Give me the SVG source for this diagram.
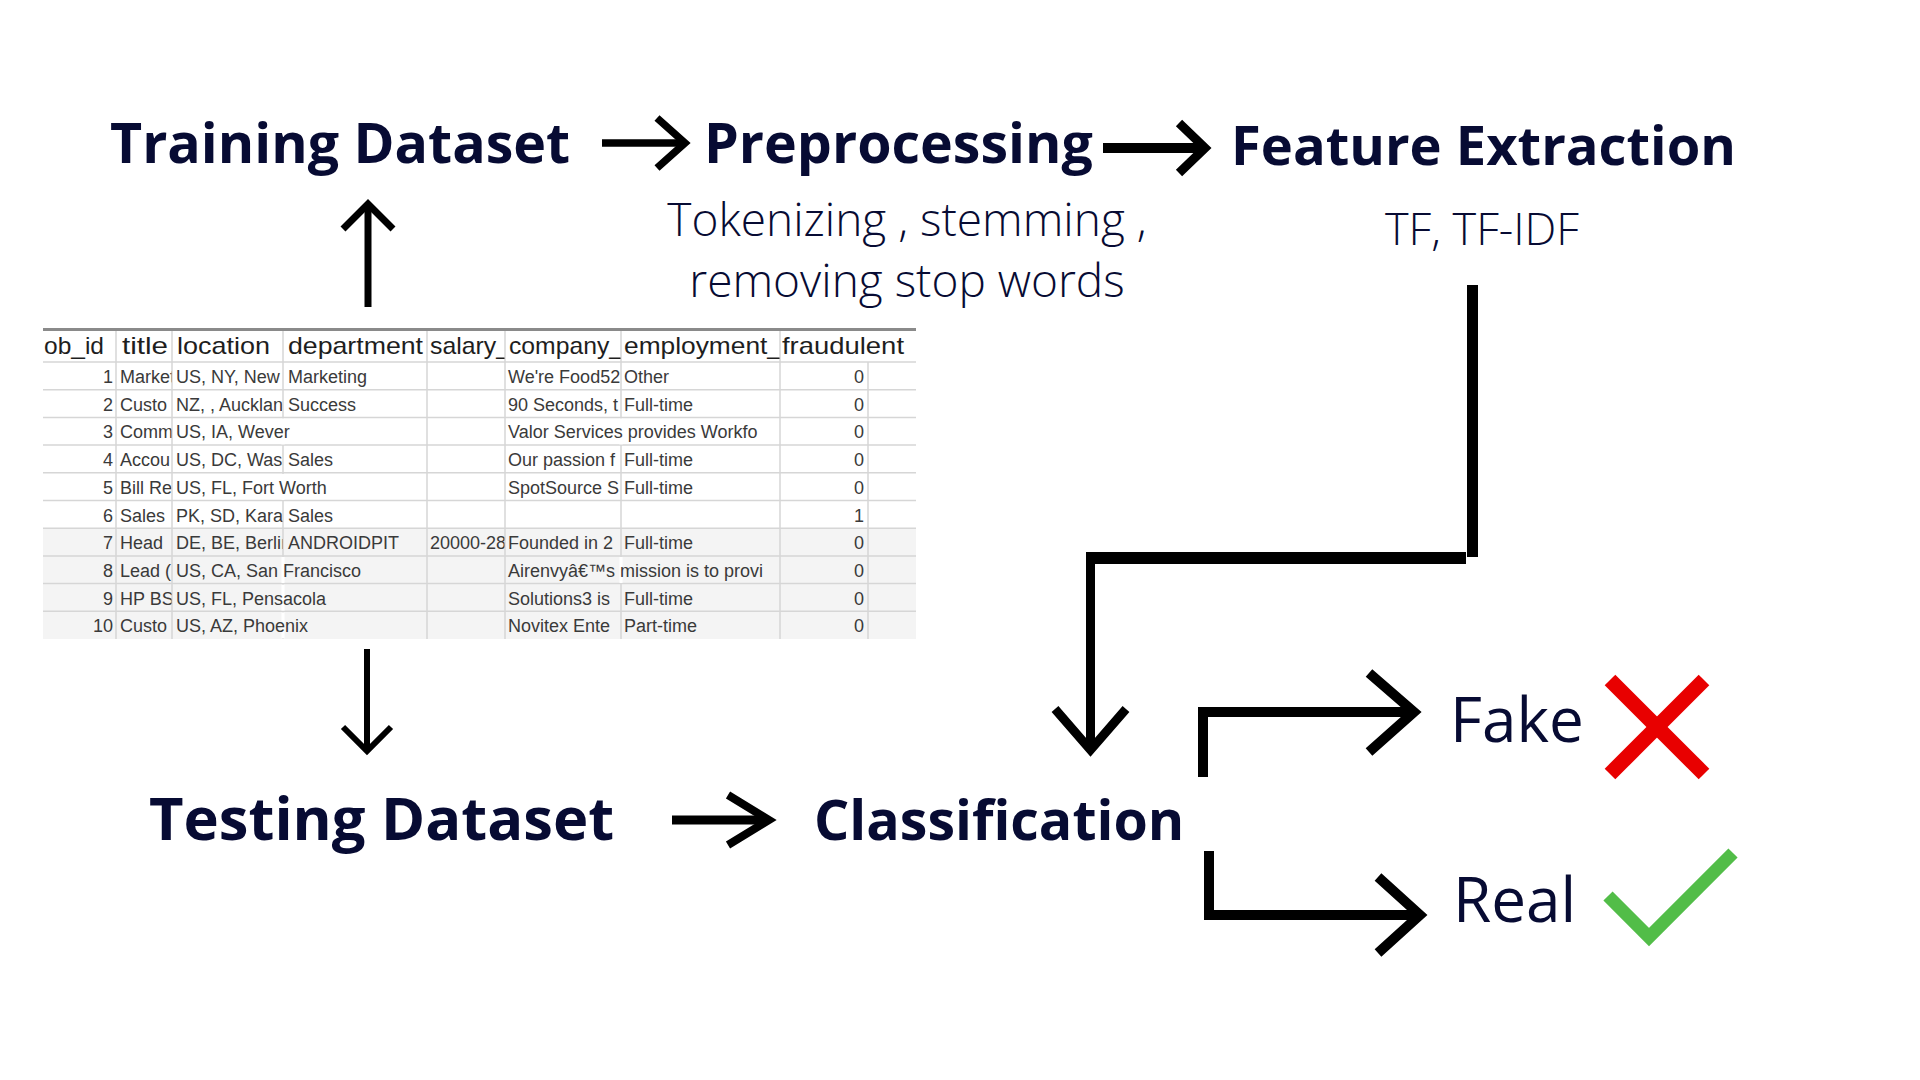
<svg xmlns="http://www.w3.org/2000/svg" width="1920" height="1080" viewBox="0 0 1920 1080">
<style>
.t{font-family:"Open Sans","Noto Sans",sans-serif;fill:#070b33}
.b{font-weight:700;font-size:55.5px}
.l{font-weight:300;font-size:46px}
.r{font-weight:400;font-size:62px}
.ln{stroke:#000;fill:none;stroke-linecap:butt;stroke-linejoin:miter}
.th{font-family:"Liberation Sans",Arial,sans-serif;font-size:24px;fill:#1e1e1e}
.td{font-family:"Liberation Sans",Arial,sans-serif;font-size:18px;fill:#3a3a3a}
.g{stroke:#d6d6d6;stroke-width:1.5}
</style>
<defs>
<clipPath id="cTitle"><rect x="117" y="328" width="54.5" height="312"/></clipPath>
<clipPath id="cLoc"><rect x="172.5" y="328" width="110" height="312"/></clipPath>
<clipPath id="cSal"><rect x="427.5" y="328" width="77" height="312"/></clipPath>
<clipPath id="cCo"><rect x="505.5" y="328" width="115" height="312"/></clipPath>
<clipPath id="cCoW"><rect x="505.5" y="328" width="274" height="312"/></clipPath>
<clipPath id="cEmp"><rect x="621.5" y="328" width="158" height="312"/></clipPath>
<clipPath id="cTab"><rect x="43" y="326" width="873" height="314"/></clipPath>
</defs>
<rect width="1920" height="1080" fill="#fff"/>

<g id="node-training"><text class="t b" x="110" y="163">Training Dataset</text></g>
<g id="node-preprocessing">
<text class="t b" x="704" y="163">Preprocessing</text>
<text class="t l" x="907" y="236" text-anchor="middle">Tokenizing , stemming ,</text>
<text class="t l" x="907" y="297" text-anchor="middle">removing stop words</text>
</g>
<g id="node-feature">
<text class="t b" x="1231" y="165" style="font-size:54.3px">Feature Extraction</text>
<text class="t l" x="1385" y="245" style="font-size:45px">TF, TF-IDF</text>
</g>
<g id="node-testing"><text class="t b" x="149" y="840" style="font-size:59.7px">Testing Dataset</text></g>
<g id="node-classification"><text class="t b" x="814" y="840">Classification</text></g>
<g id="node-fake">
<text class="t r" x="1450" y="742">Fake</text>
<g stroke="#e80000" stroke-width="15" stroke-linecap="butt">
<line x1="1610" y1="680" x2="1704" y2="774"/>
<line x1="1704" y1="680" x2="1610" y2="774"/>
</g>
</g>
<g id="node-real">
<text class="t r" x="1453" y="922">Real</text>
<polyline points="1608,896 1649,937 1733,853" fill="none" stroke="#52bd48" stroke-width="13"/>
</g>

<g id="node-table" clip-path="url(#cTab)">
<rect x="43" y="328" width="873" height="311" fill="#fff"/>
<rect x="43" y="528" width="873" height="111" fill="#f4f4f4"/>
<g class="g">
<line x1="43" y1="362" x2="916" y2="362"/>
<line x1="43" y1="389.7" x2="916" y2="389.7"/>
<line x1="43" y1="417.4" x2="916" y2="417.4"/>
<line x1="43" y1="445.1" x2="916" y2="445.1"/>
<line x1="43" y1="472.8" x2="916" y2="472.8"/>
<line x1="43" y1="500.5" x2="916" y2="500.5"/>
<line x1="43" y1="528.2" x2="916" y2="528.2"/>
<line x1="43" y1="555.9" x2="916" y2="555.9"/>
<line x1="43" y1="583.6" x2="916" y2="583.6"/>
<line x1="43" y1="611.3" x2="916" y2="611.3"/>
<line x1="116" y1="330" x2="116" y2="639"/>
<line x1="172" y1="330" x2="172" y2="639"/>
<line x1="283" y1="330" x2="283" y2="639"/>
<line x1="427" y1="330" x2="427" y2="639"/>
<line x1="505" y1="330" x2="505" y2="639"/>
<line x1="621" y1="330" x2="621" y2="639"/>
<line x1="780" y1="330" x2="780" y2="639"/>
<line x1="868" y1="362" x2="868" y2="639"/>
</g>
<g fill="#fff">
<rect x="281.5" y="418.5" width="3" height="26"/>
<rect x="281.5" y="474" width="3" height="26"/>
<rect x="281.5" y="557" width="3" height="26"/>
<rect x="281.5" y="584.7" width="3" height="26"/>
<rect x="281.5" y="612.4" width="3" height="26"/>
<rect x="619.5" y="418.5" width="3" height="26"/>
<rect x="619.5" y="557" width="3" height="26"/>
</g>
<line x1="43" y1="329.5" x2="916" y2="329.5" stroke="#8a8a8a" stroke-width="3"/>
<g class="th">
<text x="44" y="354" textLength="60" lengthAdjust="spacingAndGlyphs">ob_id</text>
<text x="122" y="354" textLength="46" lengthAdjust="spacingAndGlyphs">title</text>
<text x="177" y="354" textLength="93" lengthAdjust="spacingAndGlyphs">location</text>
<text x="288" y="354" textLength="135" lengthAdjust="spacingAndGlyphs">department</text>
<text x="430" y="354" textLength="80" lengthAdjust="spacingAndGlyphs" clip-path="url(#cSal)">salary_</text>
<text x="509" y="354" textLength="114" lengthAdjust="spacingAndGlyphs" clip-path="url(#cCo)">company_</text>
<text x="624" y="354" textLength="158" lengthAdjust="spacingAndGlyphs" clip-path="url(#cEmp)">employment_</text>
<text x="782" y="354" textLength="122" lengthAdjust="spacingAndGlyphs">fraudulent</text>
</g>
<g class="td">
<g text-anchor="end">
<text x="113" y="383">1</text><text x="113" y="410.7">2</text><text x="113" y="438.4">3</text><text x="113" y="466.1">4</text><text x="113" y="493.8">5</text><text x="113" y="521.5">6</text><text x="113" y="549.2">7</text><text x="113" y="576.9">8</text><text x="113" y="604.6">9</text><text x="113" y="632.3">10</text>
<text x="864" y="383">0</text><text x="864" y="410.7">0</text><text x="864" y="438.4">0</text><text x="864" y="466.1">0</text><text x="864" y="493.8">0</text><text x="864" y="521.5">1</text><text x="864" y="549.2">0</text><text x="864" y="576.9">0</text><text x="864" y="604.6">0</text><text x="864" y="632.3">0</text>
</g>
<g clip-path="url(#cTitle)">
<text x="120" y="383">Market</text><text x="120" y="410.7">Custo</text><text x="120" y="438.4">Comm</text><text x="120" y="466.1">Accou</text><text x="120" y="493.8">Bill Re</text><text x="120" y="521.5">Sales</text><text x="120" y="549.2">Head</text><text x="120" y="576.9">Lead (</text><text x="120" y="604.6">HP BS</text><text x="120" y="632.3">Custo</text>
</g>
<g clip-path="url(#cLoc)">
<text x="176" y="383">US, NY, New</text><text x="176" y="410.7">NZ, , Aucklan</text><text x="176" y="466.1">US, DC, Wash</text><text x="176" y="521.5">PK, SD, Karac</text><text x="176" y="549.2">DE, BE, Berlin</text>
</g>
<text x="176" y="438.4">US, IA, Wever</text>
<text x="176" y="493.8">US, FL, Fort Worth</text>
<text x="176" y="576.9">US, CA, San Francisco</text>
<text x="176" y="604.6">US, FL, Pensacola</text>
<text x="176" y="632.3">US, AZ, Phoenix</text>
<text x="288" y="383">Marketing</text><text x="288" y="410.7">Success</text><text x="288" y="466.1">Sales</text><text x="288" y="521.5">Sales</text><text x="288" y="549.2">ANDROIDPIT</text>
<text x="430" y="549.2" clip-path="url(#cSal)">20000-28</text>
<g clip-path="url(#cCo)">
<text x="508" y="383">We're Food52</text><text x="508" y="410.7">90 Seconds, t</text><text x="508" y="466.1">Our passion f</text><text x="508" y="493.8">SpotSource S</text><text x="508" y="549.2">Founded in 2</text><text x="508" y="604.6">Solutions3 is</text><text x="508" y="632.3">Novitex Ente</text>
</g>
<g clip-path="url(#cCoW)">
<text x="508" y="438.4">Valor Services provides Workfo</text>
<text x="508" y="576.9">Airenvyâ€™s mission is to provi</text>
</g>
<text x="624" y="383">Other</text><text x="624" y="410.7">Full-time</text><text x="624" y="466.1">Full-time</text><text x="624" y="493.8">Full-time</text><text x="624" y="549.2">Full-time</text><text x="624" y="604.6">Full-time</text><text x="624" y="632.3">Part-time</text>
</g>
</g>

<g id="connectors" class="ln">
<line x1="368" y1="307" x2="368" y2="207" stroke-width="7"/>
<polyline points="343,229 368,204 393,229" stroke-width="7"/>
<line x1="602" y1="143" x2="683" y2="143" stroke-width="7.5"/>
<polyline points="657,118 685,143 657,168" stroke-width="7.5"/>
<line x1="1103" y1="148" x2="1203" y2="148" stroke-width="10"/>
<polyline points="1179,123 1205,148 1179,173" stroke-width="9"/>
<rect x="1467" y="285" width="11" height="272" fill="#000" stroke="none"/>
<rect x="1086" y="552" width="380" height="12" fill="#000" stroke="none"/>
<line x1="1090.5" y1="552" x2="1090.5" y2="748" stroke-width="9"/>
<polyline points="1055,709 1090.5,750 1126,709" stroke-width="9"/>
<line x1="367" y1="649" x2="367" y2="749" stroke-width="6"/>
<polyline points="343,727 367,751 391,727" stroke-width="6"/>
<line x1="672" y1="820" x2="768" y2="820" stroke-width="9"/>
<polyline points="728,795 769,820 728,845" stroke-width="8"/>
<polyline points="1203,777 1203,712 1412,712" stroke-width="10"/>
<polyline points="1369,673 1414,712 1369,752" stroke-width="10"/>
<polyline points="1209,851 1209,915 1418,915" stroke-width="10"/>
<polyline points="1378,877 1420,915 1378,953" stroke-width="10"/>
</g>
</svg>
